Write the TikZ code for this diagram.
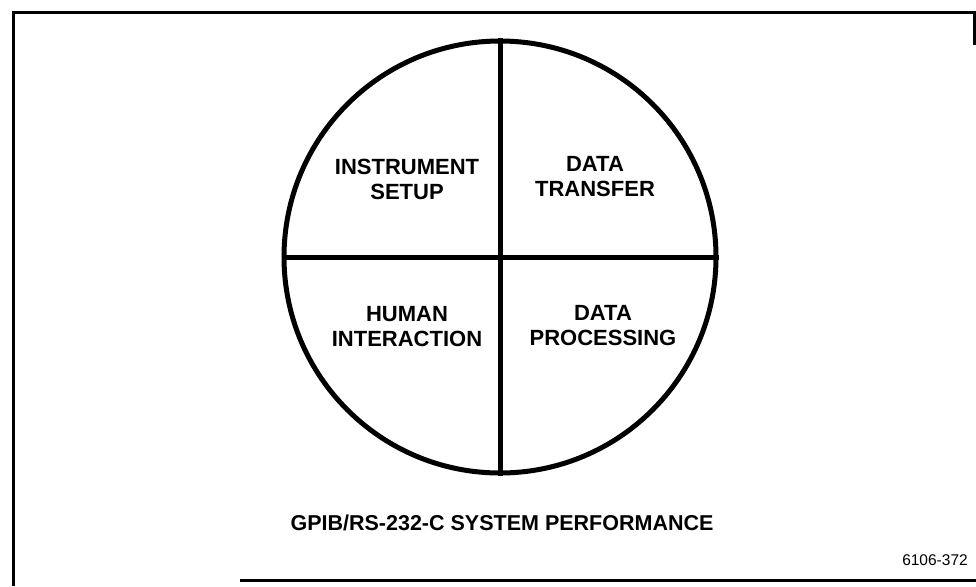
\documentclass[tikz,border=0pt]{standalone}
\usepackage{fontspec}
\setmainfont{Liberation Sans}
\begin{document}
\begin{tikzpicture}[x=1pt,y=-1pt,
  frame/.style={line width=3pt},
  wheel/.style={line width=5pt},
  quad/.style={font=\fontsize{22}{25}\selectfont\bfseries, align=center},
  caption/.style={font=\fontsize{21.5}{24}\selectfont\bfseries},
  fignum/.style={font=\fontsize{15.5}{18}\selectfont}]
\useasboundingbox (0,0) rectangle (976,586);
\draw[frame] (13,586) -- (13,13) -- (974.5,13) -- (974.5,45);
\draw[frame] (240,580) -- (976,580);
\node[circle, wheel, draw, minimum size=432pt, inner sep=0pt] (c) at (500,257) {};
\draw[wheel] (c.north) -- (c.south);
\draw[wheel] (c.west) -- (c.east);
\node[quad] (is) at (407,179) {INSTRUMENT\\SETUP};
\node[quad] (dt) at (595,177) {DATA\\TRANSFER};
\node[quad] (hi) at (407,327) {HUMAN\\INTERACTION};
\node[quad] (dp) at (603,326) {DATA\\PROCESSING};
\node[caption] (cap) at (502,523) {GPIB/RS-232-C SYSTEM PERFORMANCE};
\node[fignum] (num) at (935,560) {6106-372};
\end{tikzpicture}
\end{document}
